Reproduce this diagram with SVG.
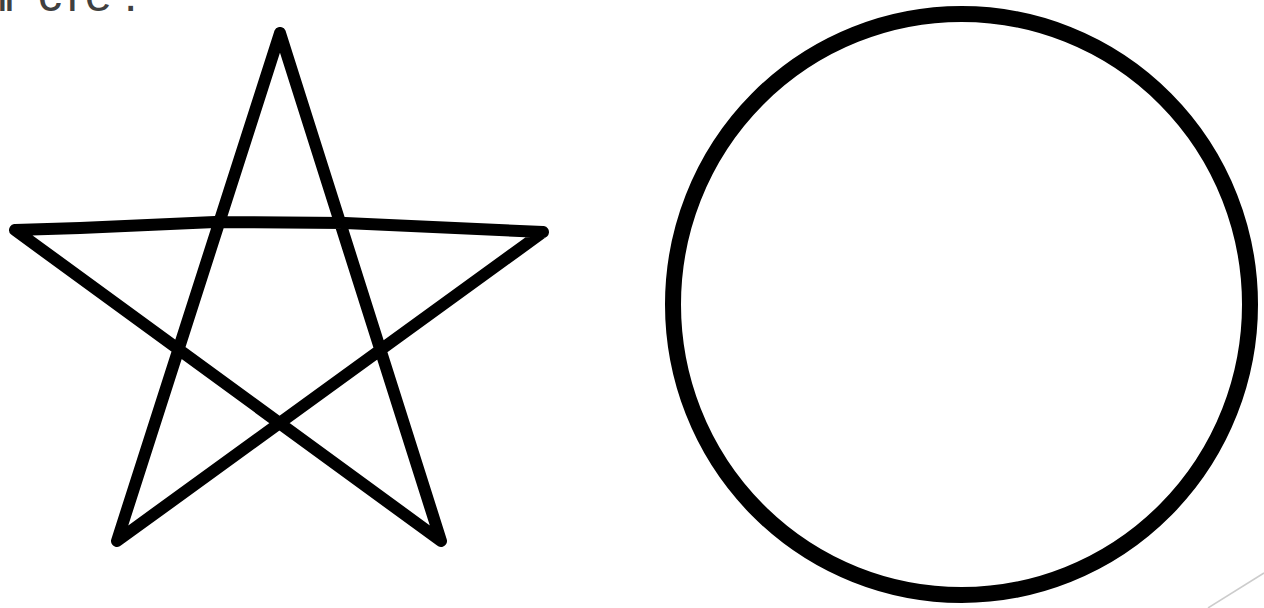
<svg xmlns="http://www.w3.org/2000/svg" width="1264" height="608" viewBox="0 0 1264 608">
<style>
.title{font-family:"Liberation Sans",Arial,sans-serif;font-size:48px;fill:#404040}
.shape{fill:none;stroke:#000;stroke-linecap:round;stroke-linejoin:round}
</style>
<rect width="1264" height="608" fill="#fff"/>
<text class="title" x="-3 4 38 67 85 124" y="11">ircle.</text>
<g id="star">
<path class="shape" stroke-width="12" d="M280,33 L117,541 M280,33 L441,541 M15,230 L80,228 L215,222 L345,223 L543,232 M15,230 L441,541 M543,232 L117,541"/>
</g>
<g id="circle">
<ellipse class="shape" stroke-width="16" cx="961.5" cy="304.5" rx="288.5" ry="290.5"/>
</g>
<g id="connectors">
<line x1="1208" y1="608" x2="1264" y2="573" stroke="#cccccc" stroke-width="1.5"/>
</g>
</svg>
